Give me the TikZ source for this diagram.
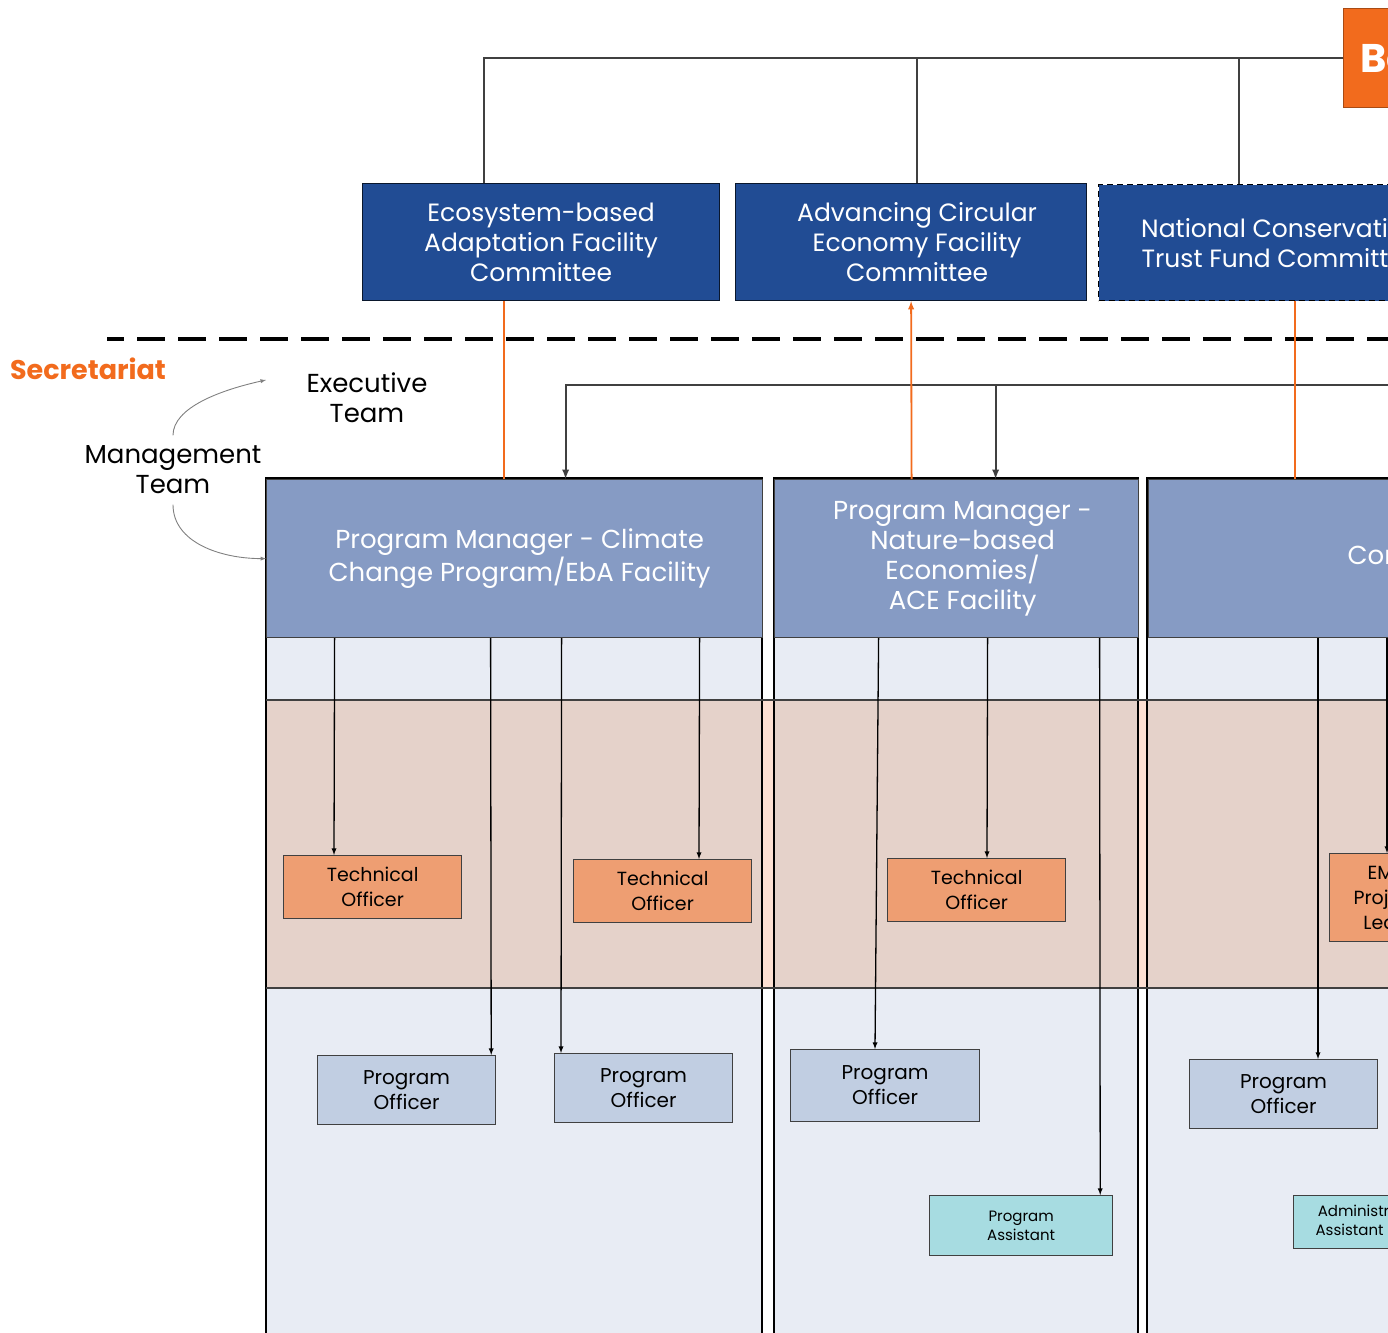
\documentclass[tikz,border=0pt]{standalone}
\usepackage{fontspec}
\setmainfont{Poppins}

\definecolor{naranja}{HTML}{F26B1D}
\definecolor{azulcomite}{HTML}{214C94}
\definecolor{azulgerente}{HTML}{869BC4}
\definecolor{fondo}{HTML}{E8ECF4}
\definecolor{franja}{HTML}{E5D2CA}
\definecolor{franjaclara}{HTML}{FDE0D3}
\definecolor{tecnico}{HTML}{EE9E72}
\definecolor{oficial}{HTML}{C1CEE2}
\definecolor{asistente}{HTML}{A7DCE1}
\definecolor{gris}{HTML}{404040}

\tikzset{
  estilo nodos/.style={
      x=1pt, y=-1pt,
      caja/.style={rectangle, draw=gris, line width=1.2pt, anchor=north west, align=center, inner sep=0pt},
      comite/.style={caja, fill=azulcomite, draw=black!70!azulcomite, text=white, font={\fontsize{25}{30}\selectfont}},
      gerente/.style={caja, fill=azulgerente, text=white, font={\fontsize{26}{30}\selectfont}},
      tecnico/.style={caja, fill=tecnico, minimum width=178pt, minimum height=63pt, font={\fontsize{19}{25}\selectfont}},
      oficial/.style={caja, fill=oficial, font={\fontsize{20}{25}\selectfont}},
      asistente/.style={caja, fill=asistente, font={\fontsize{15}{19}\selectfont}},
      etiqueta/.style={align=center, font={\fontsize{26}{30}\selectfont}},
      linea/.style={draw=gris, line width=1.8pt},
      mando/.style={-latex, draw=gris, line width=2.2pt},
      flecha/.style={-latex, line width=1.3pt},
      naranjo/.style={draw=naranja, line width=1.8pt},
      curva/.style={-latex, draw=gray, line width=0.9pt, shorten <=7pt},
    },
}

\begin{document}
\begin{tikzpicture}[estilo nodos]
  \useasboundingbox (0,0) rectangle (1388,1332);
  \clip (0,0) rectangle (1388,1332);

  \fill[franjaclara] (266,700) rectangle (1400,988);
  \foreach \a/\b in {266/762, 774/1138, 1147/1500} {
      \fill[fondo] (\a,478) rectangle (\b,1340);
      \fill[franja] (\a,700) rectangle (\b,988);
      \draw[line width=1.2pt] (\a,478) rectangle (\b,1340);
    }
  \draw[gris, line width=1.2pt] (266,700) -- (1400,700) (266,988) -- (1400,988);

  \node[caja, fill=naranja, draw=naranja!70!black, text=white, inner xsep=17pt, minimum height=99pt, font={\bfseries\fontsize{40}{48}\selectfont}] (junta) at (1343,8) {Board};

  \node[comite, minimum width=357pt, minimum height=117pt] (com1) at (362,183) {Ecosystem-based\\Adaptation Facility\\Committee};
  \node[comite, minimum width=351pt, minimum height=117pt] (com2) at (735,183) {\hspace*{12pt}Advancing Circular\\\hspace*{12pt}Economy Facility\\\hspace*{12pt}Committee};
  \node[comite, draw=black, dash pattern=on 6pt off 4pt, minimum width=364pt, minimum height=116pt] (com3) at (1098,184) {National Conservation\\Trust Fund Committee};

  \node[text=naranja, font={\bfseries\fontsize{27}{32}\selectfont}] (secretaria) at (88,369) {Secretariat};
  \node[etiqueta] (ejecutivo) at (367,398) {Executive\\Team};
  \node[etiqueta] (gestion) at (173,470) {Management\\Team};
  \coordinate (punta) at (266,380);
  \coordinate (eje) at (1400,385);

  \node[gerente, minimum width=496pt, minimum height=158pt] (pm1) at (266,479) {\hspace*{10pt}Program Manager - Climate\\\hspace*{10pt}Change Program/EbA Facility};
  \node[gerente, minimum width=364pt, minimum height=158pt] (pm2) at (774,479) {\hspace*{12pt}Program Manager -\\\hspace*{12pt}Nature-based\\\hspace*{12pt}Economies/\\\hspace*{12pt}ACE Facility};
  \node[gerente, minimum height=158pt, inner xsep=199pt] (pm3) at (1148,479) {Conservation Trust Fund Manager};

  \node[tecnico] (to1) at (283,855) {Technical\\Officer};
  \node[tecnico] (to2) at (573,859) {Technical\\Officer};
  \node[tecnico] (to3) at (887,858) {Technical\\Officer};
  \node[tecnico, minimum width=0pt, minimum height=88pt, inner xsep=24pt] (emp) at (1329,853) {EMP\\Project\\Lead};

  \node[oficial, minimum width=178pt, minimum height=69pt] (po1) at (317,1055) {Program\\Officer};
  \node[oficial, minimum width=178pt, minimum height=69pt] (po2) at (554,1053) {Program\\Officer};
  \node[oficial, minimum width=189pt, minimum height=72pt] (po3) at (790,1049) {Program\\Officer};
  \node[oficial, minimum width=188pt, minimum height=69pt] (po4) at (1189,1059) {Program\\Officer};

  \node[asistente, minimum width=183pt, minimum height=60pt] (pa) at (929,1195) {Program\\Assistant};
  \node[asistente, minimum height=53pt, inner xsep=22pt] (admin) at (1293,1195) {Administrative\\Assistant (CTF)};

  \draw[linea] (junta.west) -| ([xshift=-57.5pt]com1.north);
  \draw[linea] (junta.west) -| ([xshift=6pt]com2.north);
  \draw[linea] (junta.west) -| ([xshift=141pt]com3.north west);

  \draw[line width=3.5pt, dash pattern=on 28pt off 13pt, dash phase=11pt] (107,339) -- (1400,339);

  \draw[mando] (eje) -| ([xshift=51pt]pm1.north);
  \draw[mando] (eje) -| ([xshift=39pt]pm2.north);

  \draw[naranjo] ([xshift=-37.5pt]com1.south) -- ([xshift=-11pt]pm1.north);
  \draw[naranjo, -latex] ([xshift=-45pt]pm2.north) -- (com2.south);
  \draw[naranjo] ([xshift=197pt]com3.south west) -- ([xshift=147pt]pm3.north west);

  \draw[curva] (gestion.north) .. controls +(0,-35) and +(-45,10) .. (punta);
  \draw[curva] (gestion.south) .. controls +(0,45) and +(-45,0) .. (pm1.west);

  \draw[flecha] ([xshift=-180pt]pm1.south) -- ([xshift=51pt]to1.north west);
  \draw[flecha] ([xshift=-24pt]pm1.south) -- ([xshift=-5pt]po1.north east);
  \draw[flecha] ([xshift=47pt]pm1.south) -- ([xshift=7pt]po2.north west);
  \draw[flecha] ([xshift=185pt]pm1.south) -- ([xshift=126pt]to2.north west);
  \draw[flecha] ([xshift=-78pt]pm2.south) -- ([xshift=85pt]po3.north west);
  \draw[flecha] ([xshift=31pt]pm2.south) -- ([xshift=100pt]to3.north west);
  \draw[flecha] ([xshift=143pt]pm2.south) -- ([xshift=-13pt]pa.north east);
  \draw[flecha] ([xshift=170pt]pm3.south west) -- ([xshift=129pt]po4.north west);
  \draw[flecha] ([xshift=239pt]pm3.south west) -- ([xshift=58pt]emp.north west);
\end{tikzpicture}
\end{document}
